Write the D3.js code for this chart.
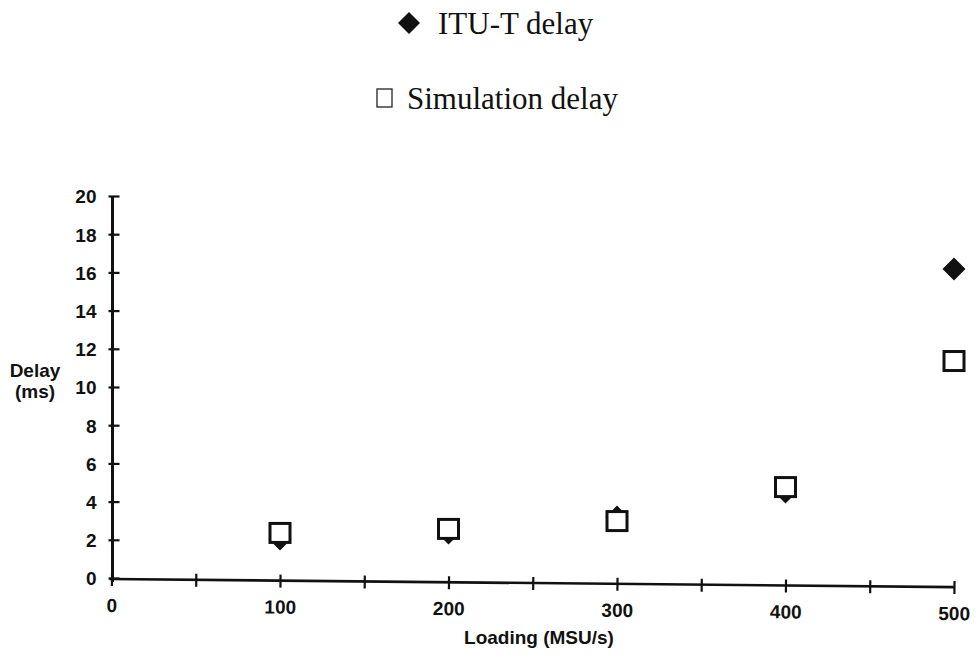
<!DOCTYPE html>
<html>
<head>
<meta charset="utf-8">
<script src="https://cdn.jsdelivr.net/npm/d3@7"></script>
<style>
  html, body { margin: 0; padding: 0; background: #fff; }
  svg { display: block; }
</style>
</head>
<body>
<svg id="chart" width="977" height="664"></svg>
<script>
// ---- data ----
const loading = [100, 200, 300, 400, 500];
const ituDelay = [2.04, 2.36, 3.19, 4.50, 16.18];
const simDelay = [2.36, 2.57, 2.98, 4.76, 11.36];
const yTicks = [0, 2, 4, 6, 8, 10, 12, 14, 16, 18, 20];
const xTickLabels = [0, 100, 200, 300, 400, 500];
const xMinorTicks = [50, 150, 250, 350, 450];
const seriesNames = ["ITU-T delay", "Simulation delay"];

const svg = d3.select("#chart");
const x = d3.scaleLinear().domain([0, 500]).range([111.5, 954]);
const y = d3.scaleLinear().domain([0, 20]).range([578, 196]);

const bold = "'Liberation Sans', Arial, sans-serif";
const serif = "'Liberation Serif', 'Times New Roman', serif";

// diamond path with given half-diagonal
const diamondPath = r => `M0,${-r}L${r},0L0,${r}L${-r},0Z`;

// ---- Y axis ----
const yAxis = d3.axisLeft(y).tickValues(yTicks).tickSize(0).tickPadding(0).tickFormat(d3.format("d"));
const gy = svg.append("g").attr("transform", `translate(${x(0) + 1},0)`).call(yAxis);
gy.select(".domain").remove();
gy.selectAll(".tick text")
  .attr("x", -16)
  .attr("dy", "0.36em")
  .style("font-family", bold).style("font-weight", "bold").style("font-size", "19px").attr("fill", "#111");
gy.selectAll(".tick").append("line")
  .attr("x1", -4).attr("x2", 7).attr("stroke", "#111").attr("stroke-width", 2.2);
gy.append("line").attr("x1", 0).attr("x2", 0).attr("y1", y(20)).attr("y2", y(0) + 4)
  .attr("stroke", "#111").attr("stroke-width", 3);

// ---- X axis (slightly skewed like the scan) ----
const gxWrap = svg.append("g").attr("transform", `rotate(0.55, ${x(0)}, ${y(0) + 1})`);
const xAxis = d3.axisBottom(x).tickValues(xTickLabels.concat(xMinorTicks)).tickSize(0).tickPadding(0)
  .tickFormat(d => xTickLabels.includes(d) ? d : "");
const gx = gxWrap.append("g").attr("transform", `translate(0,${y(0) + 1})`).call(xAxis);
gx.select(".domain").remove();
gx.selectAll(".tick").append("line")
  .attr("y1", -6).attr("y2", 7).attr("stroke", "#111").attr("stroke-width", 2.2);
gx.selectAll(".tick text")
  .attr("y", 33)
  .attr("dy", 0)
  .style("font-family", bold).style("font-weight", "bold").style("font-size", "19px").attr("fill", "#111");
gx.append("line").attr("x1", x(0) - 2).attr("x2", x(500)).attr("y1", 0).attr("y2", 0)
  .attr("stroke", "#111").attr("stroke-width", 2.6);

// ---- axis titles ----
svg.append("text").attr("x", 35).attr("y", 377).attr("text-anchor", "middle")
  .style("font-family", bold).style("font-weight", "bold").style("font-size", "19px").attr("fill", "#111")
  .text("Delay");
svg.append("text").attr("x", 35).attr("y", 398).attr("text-anchor", "middle")
  .style("font-family", bold).style("font-weight", "bold").style("font-size", "19px").attr("fill", "#111")
  .text("(ms)");
svg.append("text").attr("x", 539).attr("y", 644).attr("text-anchor", "middle")
  .style("font-family", bold).style("font-weight", "bold").style("font-size", "19px").attr("fill", "#111")
  .text("Loading (MSU/s)");

// ---- data marks ----
svg.append("g").selectAll("path").data(loading.map((l, i) => ({ l, v: ituDelay[i] })))
  .join("path")
  .attr("d", diamondPath(11.5))
  .attr("transform", d => `translate(${x(d.l)},${y(d.v)})`)
  .attr("fill", "#111");

svg.append("g").selectAll("rect").data(loading.map((l, i) => ({ l, v: simDelay[i] })))
  .join("rect")
  .attr("x", d => x(d.l) - 10).attr("y", d => y(d.v) - 9.5)
  .attr("width", 20).attr("height", 19)
  .attr("fill", "#fff").attr("stroke", "#111").attr("stroke-width", 3);

// ---- legend ----
svg.append("path").attr("d", diamondPath(11))
  .attr("transform", "translate(409,23)").attr("fill", "#111");
svg.append("text").attr("x", 438).attr("y", 34)
  .style("font-family", serif).style("font-size", "31px").attr("fill", "#111")
  .text(seriesNames[0]);
svg.append("rect").attr("x", 377).attr("y", 89).attr("width", 15).attr("height", 18)
  .attr("fill", "none").attr("stroke", "#222").attr("stroke-width", 1.3);
svg.append("text").attr("x", 407).attr("y", 109)
  .style("font-family", serif).style("font-size", "31px").attr("fill", "#111")
  .text(seriesNames[1]);
</script>
</body>
</html>
